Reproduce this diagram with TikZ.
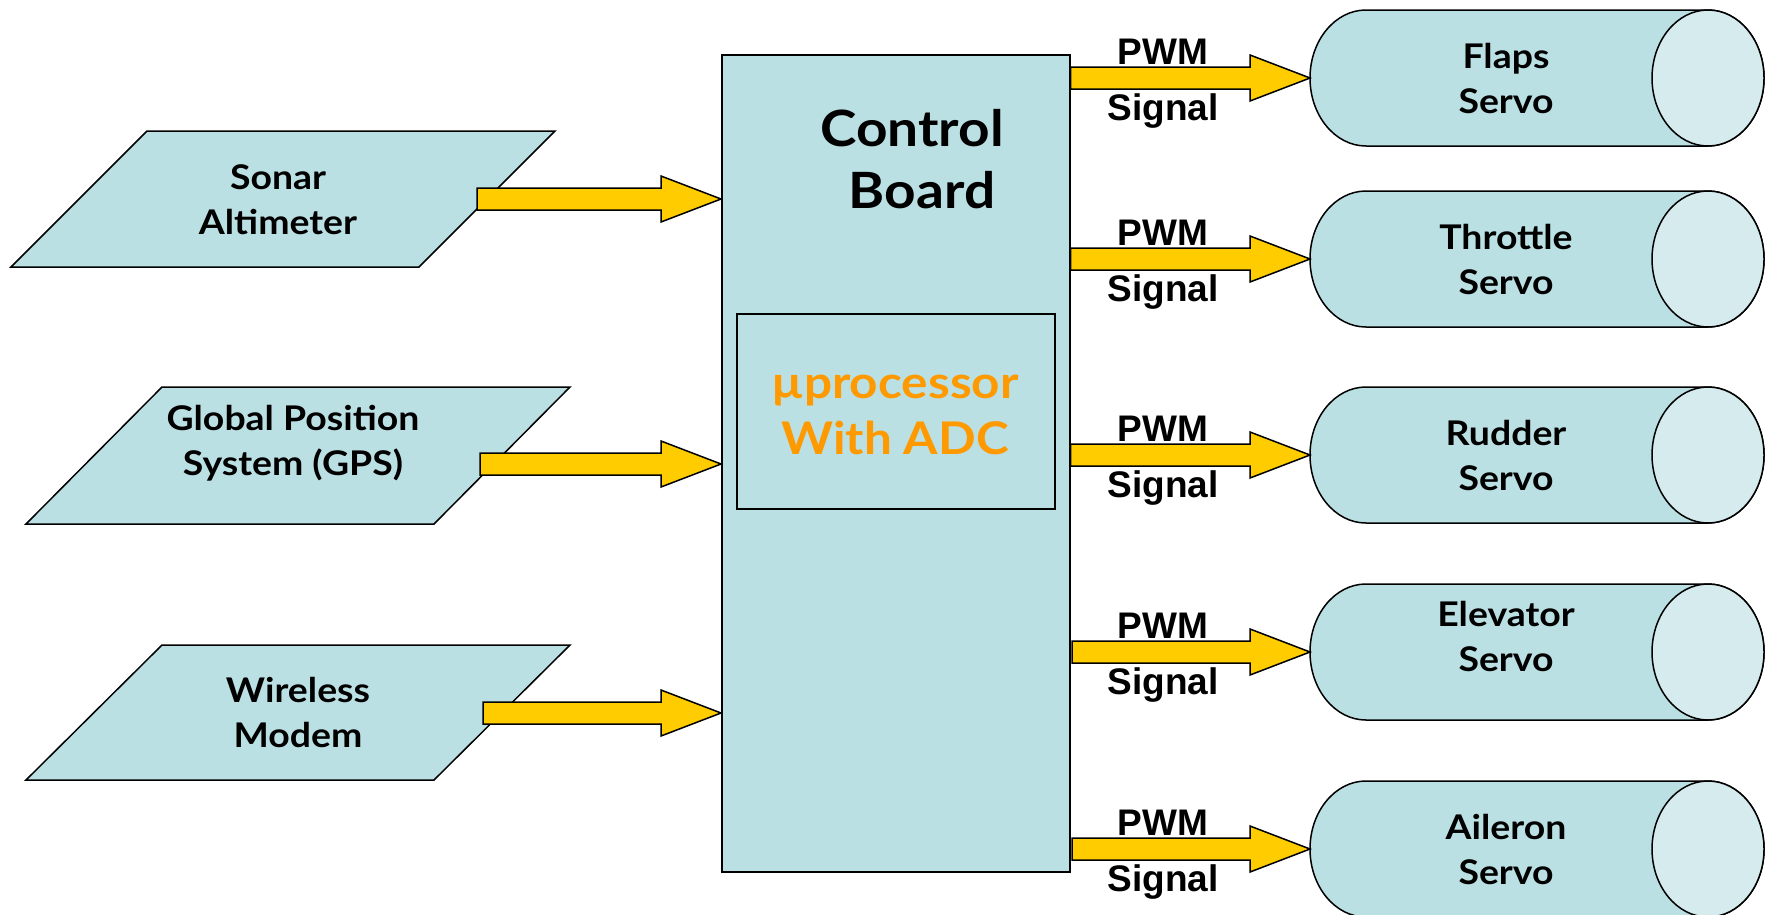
\documentclass[tikz,border=0pt]{standalone}
\usepackage{fontspec}
\usetikzlibrary{calc}
\newfontfamily\comicf{Lato}[FakeStretch=1.1]
\newfontfamily\arialf{Liberation Sans}
\definecolor{boxfill}{HTML}{BBE0E3}
\definecolor{facefill}{HTML}{D6EBED}
\definecolor{arrowfill}{HTML}{FFCC00}
\definecolor{proctext}{HTML}{FF9900}
\tikzset{
  shapeline/.style={draw=black, line width=1.5pt, fill=boxfill},
  faceline/.style={draw=black, line width=1.5pt, fill=facefill},
  blockarr/.style={draw=black, line width=1.5pt, fill=arrowfill, line join=miter},
  lbl/.style={font=\comicf\bfseries\fontsize{34}{45}\selectfont, align=center, inner sep=0pt},
  sig/.style={font=\arialf\bfseries\fontsize{37}{42}\selectfont, inner sep=0pt, anchor=base},
}
% block arrow from #1 (tail, centre of shaft) to #2 (tip)
\newcommand\fatarrow[2]{%
  \draw[blockarr] let \p1=(#1), \p2=(#2) in
    (\x1,\y1+11pt) -- (\x2-60pt,\y1+11pt) -- (\x2-60pt,\y1+23pt) -- (\x2,\y1)
    -- (\x2-60pt,\y1-23pt) -- (\x2-60pt,\y1-11pt) -- (\x1,\y1-11pt) -- cycle;}
% servo cylinder: name, centre y, text offset, text
\newcommand\servo[4]{%
  \draw[shapeline] (1366,{#2-68}) -- (1708,{#2-68})
    arc[start angle=90, end angle=-90, x radius=56pt, y radius=68pt]
    -- (1366,{#2+68})
    arc[start angle=270, end angle=90, x radius=56pt, y radius=68pt] -- cycle;
  \draw[faceline] (1708,#2) ellipse[x radius=56pt, y radius=68pt];
  \coordinate (#1-in) at (1310,#2);
  \node[lbl] (#1) at (1506,{#2+#3}) {#4};}
\begin{document}
\begin{tikzpicture}[x=1pt,y=-1pt]
\useasboundingbox (0,0) rectangle (1771,914);

% control board
\node[shapeline, minimum width=348pt, minimum height=817pt, anchor=north west, inner sep=0pt] (cb) at (721,54) {};
\node[lbl, font=\comicf\bfseries\fontsize{50}{62}\selectfont] (cbtext) at (912,159) {Control\\\hspace*{0.4em}Board};
\node[shapeline, minimum width=318pt, minimum height=195pt, anchor=north west, inner sep=0pt] (proc) at (736,313) {};
\node[lbl, font=\comicf\bfseries\fontsize{45}{56}\selectfont, text=proctext] (proctxt) at (895,415) {µprocessor\\With ADC};

% inputs
\draw[shapeline] (147,131) -- (555,131) -- (419,267) -- (11,267) -- cycle;
\node[lbl] (sonar) at (278,200) {Sonar\\Altimeter};
\draw[shapeline] (162,387) -- (570,387) -- (434,524) -- (26,524) -- cycle;
\node[lbl] (gps) at (293,443) {Global Position\\System (GPS)};
\draw[shapeline] (162,645) -- (570,645) -- (434,780) -- (26,780) -- cycle;
\node[lbl] (modem) at (298,712) {Wireless\\Modem};

\coordinate (s1) at (477,199);
\coordinate (g1) at (480,464);
\coordinate (w1) at (483,713);
\fatarrow{s1}{cb.west |- s1}
\fatarrow{g1}{cb.west |- g1}
\fatarrow{w1}{cb.west |- w1}

% servos
\servo{flaps}{78}{0}{Flaps\\Servo}
\servo{throttle}{259}{0}{Throttle\\Servo}
\servo{rudder}{455}{0}{Rudder\\Servo}
\servo{elevator}{652}{-16}{Elevator\\Servo}
\servo{aileron}{849}{0}{Aileron\\Servo}

\coordinate (o4) at (1072,652);
\coordinate (o5) at (1072,849);
\fatarrow{cb.east |- flaps-in}{flaps-in}
\fatarrow{cb.east |- throttle-in}{throttle-in}
\fatarrow{cb.east |- rudder-in}{rudder-in}
\fatarrow{o4}{elevator-in}
\fatarrow{o5}{aileron-in}

\foreach \n/\c in {1/78,2/259,3/455,4/652,5/849}{
  \node[sig] (pwm\n) at (1163,\c-14) {PWM};
  \node[sig] (sig\n) at (1163,\c+42) {Signal};
}
\end{tikzpicture}
\end{document}
